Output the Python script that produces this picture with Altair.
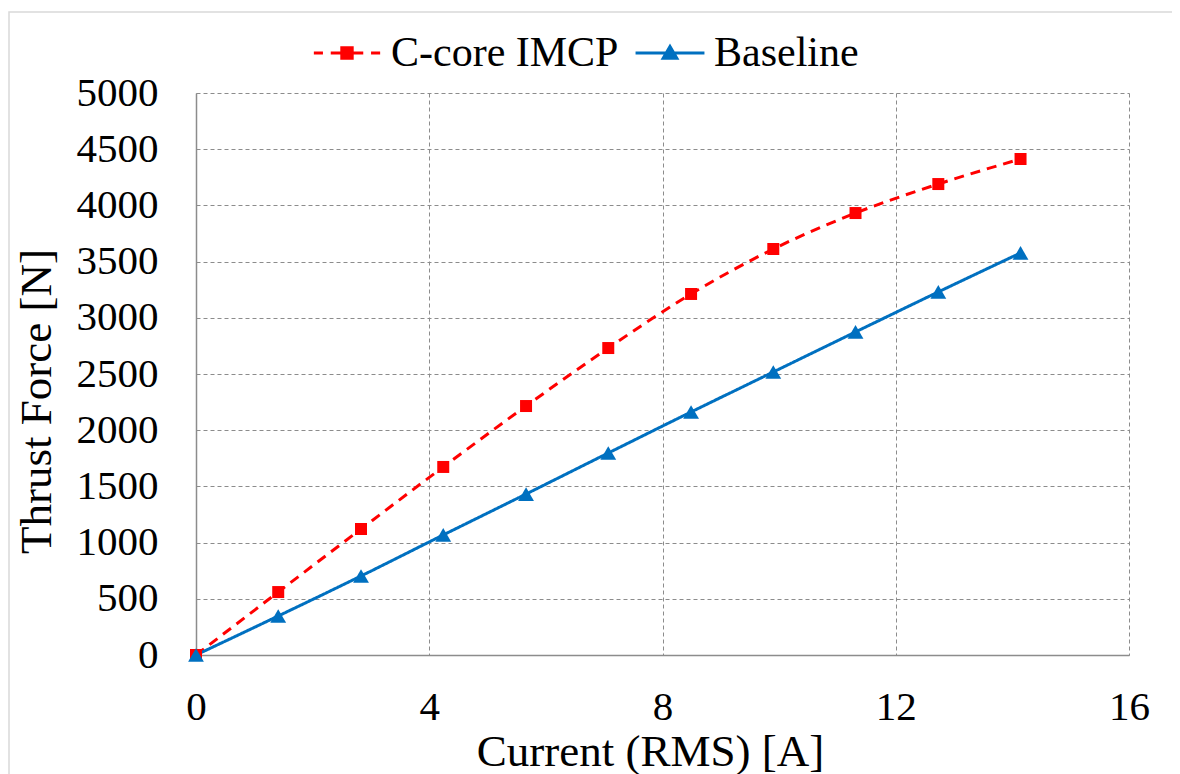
import altair as alt
import pandas as pd

# ---- data ----
current = [0, 1.41, 2.83, 4.24, 5.66, 7.07, 8.49, 9.9, 11.31, 12.73, 14.14]
ccore = [0, 560, 1121, 1673, 2215, 2731, 3212, 3612, 3932, 4190, 4413]
baseline = [0, 347, 703, 1068, 1432, 1797, 2162, 2518, 2874, 3230, 3577]
series_names = ["C-core IMCP", "Baseline"]
colors = ["#FF0000", "#0070C0"]
x_ticks = [0, 4, 8, 12, 16]
y_ticks = [0, 500, 1000, 1500, 2000, 2500, 3000, 3500, 4000, 4500, 5000]

rows = []
for name, vals in zip(series_names, [ccore, baseline]):
    for i, (x, y) in enumerate(zip(current, vals)):
        rows.append({"series": name, "current": x, "force": y, "idx": i})
df = pd.DataFrame(rows)

FONT = "Liberation Serif"
is_red = "datum.series === 'C-core IMCP'"

# legend symbol paths (line + marker)
red_path = ("M-5.1,0L-3.7,0M-2.5,0L-0.8,0M0.8,0L2.5,0M3.7,0L5.1,0"
            "M-0.8,-0.8L0.8,-0.8L0.8,0.8L-0.8,0.8Z")
blue_path = "M-5.3,0L5.3,0M0,-1.0L1.05,0.8L-1.05,0.8Z"

x_enc = alt.X(
    "current:Q",
    scale=alt.Scale(domain=[0, 16], nice=False),
    axis=alt.Axis(
        values=x_ticks, title="Current (RMS) [A]", ticks=False, format="d",
        labelFlush=False, labelPadding=32, titleX=454, titleY=110,
        titleBaseline="alphabetic",
    ),
)
y_enc = alt.Y(
    "force:Q",
    scale=alt.Scale(domain=[0, 5000], nice=False),
    axis=alt.Axis(
        values=y_ticks, title="Thrust Force [N]", ticks=False, format="d",
        labelFlush=False, labelPadding=38, titleX=-146, titleY=308,
        titleBaseline="alphabetic",
    ),
)

base = alt.Chart(df)

border = alt.Chart(alt.Data(values=[{}])).mark_rect(
    filled=False, stroke="#d9d9d9", strokeWidth=1.5
).encode(
    x=alt.value(-187), x2=alt.value(1100), y=alt.value(-81), y2=alt.value(800)
)

lines = base.mark_line(interpolate="monotone", strokeWidth=3).encode(
    x=x_enc, y=y_enc,
    detail="series:N",
    order="idx:Q",
    color=alt.condition(is_red, alt.value(colors[0]), alt.value(colors[1])),
    strokeDash=alt.condition(is_red, alt.value([10, 7]), alt.value([1, 0])),
)

points = base.mark_point(filled=True, opacity=1).encode(
    x=x_enc, y=y_enc,
    color=alt.condition(is_red, alt.value(colors[0]), alt.value(colors[1])),
    shape=alt.condition(is_red, alt.value("square"), alt.value("triangle-up")),
    size=alt.condition(is_red, alt.value(144), alt.value(250)),
)

leg = alt.Legend(
    orient="none", legendX=130, legendY=-61, direction="horizontal",
    title=None, symbolSize=169, symbolStrokeWidth=3,
    labelFont=FONT, labelFontSize=42, labelColor="black",
    labelOffset=23, columnPadding=10, symbolOffset=0, padding=0,
    labelLimit=500,
)
legend_layer = base.transform_filter("false").mark_point(
    filled=False, opacity=1, size=169, strokeWidth=3
).encode(
    x=x_enc, y=y_enc,
    color=alt.Color("series:N", scale=alt.Scale(domain=series_names, range=colors), legend=leg),
    fill=alt.Fill("series:N", scale=alt.Scale(domain=series_names, range=colors), legend=leg),
    shape=alt.Shape("series:N", scale=alt.Scale(domain=series_names, range=[red_path, blue_path]), legend=leg),
)

chart = alt.layer(border, lines, points, legend_layer).properties(
    width=933, height=562,
    autosize=alt.AutoSizeParams(type="none"),
    padding={"left": 188, "top": 85, "right": 43, "bottom": 120},
).configure_view(stroke=None).configure_axis(
    labelFont=FONT, labelFontSize=41, labelColor="black",
    titleFont=FONT, titleFontSize=45, titleColor="black", titleFontWeight="normal",
    gridColor="#8c8c8c", gridDash=[4, 3], gridWidth=1,
    domainColor="#8c8c8c", domainWidth=1.5,
)

chart.save("out.html", embed_options={"renderer": "svg", "actions": False})
